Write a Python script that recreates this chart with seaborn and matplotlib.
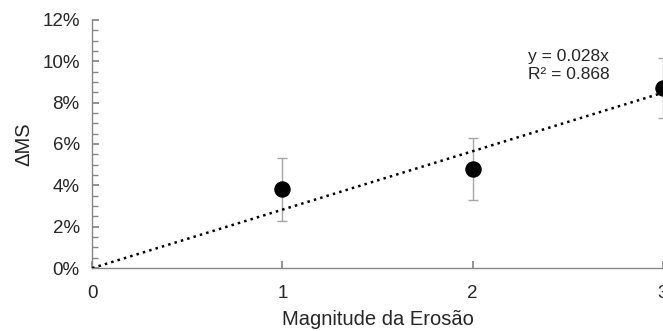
import numpy as np
import pandas as pd
import matplotlib.pyplot as plt
from matplotlib.ticker import MultipleLocator, PercentFormatter
import seaborn as sns

# Dados
magnitude = [1, 2, 3]
delta_ms = [3.82, 4.78, 8.73]   # %
erro = [1.52, 1.51, 1.45]        # %
equacao = ["y = 0.028x", "R² = 0.868"]

sns.set_theme(style="ticks")
plt.rcParams['font.family'] = ['Liberation Sans', 'DejaVu Sans']

df = pd.DataFrame({"x": magnitude, "y": delta_ms, "err": erro})

# Linha de tendência pela origem
x = np.array(magnitude, dtype=float)
y = np.array(delta_ms)
slope = np.sum(x * y) / np.sum(x * x)
trend = pd.DataFrame({"x": [0, 3], "y": [0, slope * 3]})

fig = plt.figure(figsize=(6.63, 3.31), dpi=100)
ax = fig.add_axes([0.139, 0.19, 0.861, 0.75])

ax.errorbar(df["x"], df["y"], yerr=df["err"], fmt="none", ecolor="#a6a6a6",
            elinewidth=1, capsize=3.5, capthick=1, zorder=2)
sns.lineplot(data=trend, x="x", y="y", ax=ax, color="black", linestyle=":",
             linewidth=1.8, zorder=3)
sns.scatterplot(data=df, x="x", y="y", ax=ax, color="black", s=120,
                edgecolor="black", zorder=4, clip_on=False)

ax.set_xlim(0, 3)
ax.set_ylim(0, 12)
ax.xaxis.set_major_locator(MultipleLocator(1))
ax.yaxis.set_major_locator(MultipleLocator(2))
ax.yaxis.set_minor_locator(MultipleLocator(0.5))
ax.yaxis.set_major_formatter(PercentFormatter(decimals=0))

for s in ["top", "right"]:
    ax.spines[s].set_visible(False)
for s in ["left", "bottom"]:
    ax.spines[s].set_color("#868686")
    ax.spines[s].set_linewidth(1)

ax.tick_params(axis="both", which="both", direction="in", color="#868686",
               labelsize=13.5, labelcolor="#262626")
ax.tick_params(axis="y", which="major", length=5, pad=9)
ax.tick_params(axis="y", which="minor", length=4)
ax.tick_params(axis="x", which="major", length=5, pad=12)

ax.set_xlabel("Magnitude da Erosão", fontsize=14.5, color="#262626", labelpad=6)
ax.set_ylabel("ΔMS", fontsize=14.5, color="#262626", labelpad=6)

ax.text(2.293, 9.8, "\n".join(equacao), fontsize=12.5,
        color="#262626", ha="left", va="center", linespacing=1.3)

fig.savefig("out.png", dpi=100)
